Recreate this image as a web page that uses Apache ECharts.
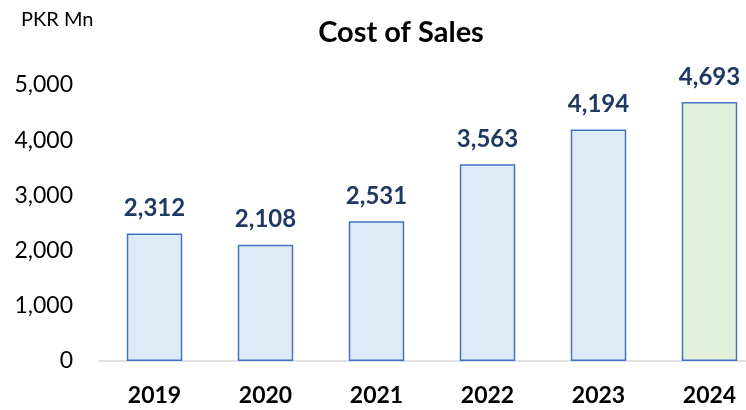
<!DOCTYPE html>
<html><head><meta charset="utf-8">
<script src="https://cdn.jsdelivr.net/npm/echarts@6/dist/echarts.min.js"></script>
<style>html,body{margin:0;padding:0;background:#fff}#c{width:746px;height:410px}</style>
</head><body><div id="c"></div>
<script>
const categories = ['2019','2020','2021','2022','2023','2024'];
const values = [2312, 2108, 2531, 3563, 4194, 4693];
const yTicks = [0, 1000, 2000, 3000, 4000, 5000];
const FONT = 'Lato, "Open Sans", sans-serif';
const chart = echarts.init(document.getElementById('c'));
chart.setOption({
  animation: false,
  title: [
    {text: 'Cost of Sales', left: 396, top: 13, textAlign: 'center',
     textStyle: {fontFamily: FONT, fontSize: 29, fontWeight: 'bold', color: '#000'}},
    {text: 'PKR Mn', left: 16, top: 5,
     textStyle: {fontFamily: FONT, fontSize: 20, fontWeight: 'normal', color: '#000'}}
  ],
  grid: {left: 99, top: 85, width: 666, bottom: 49, outerBoundsMode: 'none', containLabel: false},
  xAxis: {
    type: 'category', data: categories,
    axisLine: {lineStyle: {color: '#D9D9D9', width: 1.5}},
    axisTick: {show: false},
    axisLabel: {fontFamily: FONT, fontSize: 23, fontWeight: 'bold', color: '#000', margin: 23}
  },
  yAxis: {
    type: 'value', min: yTicks[0], max: yTicks[yTicks.length-1], interval: 1000,
    splitLine: {show: false}, axisLine: {show: false}, axisTick: {show: false},
    axisLabel: {fontFamily: FONT, fontSize: 23, color: '#000', margin: 26,
      formatter: v => v.toLocaleString('en-US')}
  },
  series: [{
    type: 'bar', barWidth: '50%',
    data: values.map((v, i) => ({
      value: v,
      itemStyle: {color: i === values.length - 1 ? '#E2EFDA' : '#DDEBF7', borderColor: '#4472C4', borderWidth: 1.5}
    })),
    label: {show: true, position: 'top', distance: 13, fontFamily: FONT, fontSize: 24, fontWeight: 'bold', color: '#1F3864',
      formatter: p => p.value.toLocaleString('en-US')}
  }]
});
</script></body></html>
